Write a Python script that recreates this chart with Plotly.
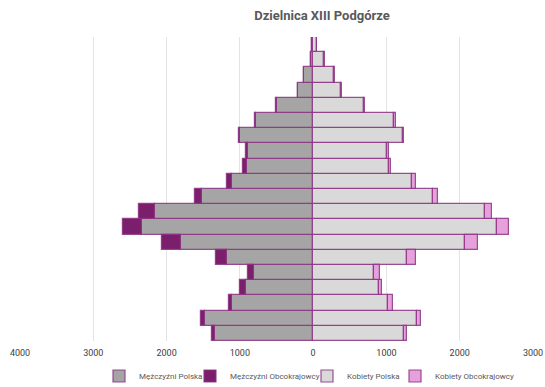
import plotly.graph_objects as go

# grupy wiekowe (od dołu do góry)
wiek = ["0-4", "5-9", "10-14", "15-19", "20-24", "25-29", "30-34", "35-39", "40-44", "45-49",
        "50-54", "55-59", "60-64", "65-69", "70-74", "75-79", "80-84", "85-89", "90-94", "95+"]

m_polska = [1341, 1473, 1114, 922, 805, 1177, 1805, 2341, 2160, 1523,
            1105, 909, 887, 1000, 780, 497, 205, 120, 32, 18]
m_obce = [41, 59, 41, 82, 82, 155, 259, 259, 214, 91,
          68, 55, 30, 18, 15, 12, 8, 7, 3, 2]
k_polska = [1242, 1419, 1028, 896, 824, 1274, 2074, 2506, 2342, 1642,
            1351, 1037, 1010, 1225, 1110, 695, 378, 288, 152, 50]
k_obce = [36, 50, 55, 50, 86, 136, 182, 168, 105, 55,
          46, 27, 27, 17, 14, 10, 9, 8, 8, 5]

tick_vals = [-4000, -3000, -2000, -1000, 0, 1000, 2000, 3000]
tick_text = ["4000", "3000", "2000", "1000", "0", "1000", "2000", "3000"]

obrys = dict(color="rgba(140,50,130,0.85)", width=1.2)

fig = go.Figure()
fig.add_trace(go.Bar(y=wiek, x=[-v for v in m_polska], orientation="h",
                     name="Mężczyźni Polska", legend="legend", showlegend=True,
                     marker=dict(color="#A5A5A5", line=obrys)))
fig.add_trace(go.Bar(y=wiek, x=[-v for v in m_obce], orientation="h",
                     name="Mężczyźni Obcokrajowcy", legend="legend2", showlegend=True,
                     marker=dict(color="#7B1F6D", line=obrys)))
fig.add_trace(go.Bar(y=wiek, x=k_polska, orientation="h",
                     name="Kobiety Polska", legend="legend3", showlegend=True,
                     marker=dict(color="#D9D9D9", line=obrys)))
fig.add_trace(go.Bar(y=wiek, x=k_obce, orientation="h",
                     name="Kobiety Obcokrajowcy", legend="legend4", showlegend=True,
                     marker=dict(color="#E6A0DC", line=obrys)))

def leg(px):
    return dict(xref="container", yref="container", x=px / 545, xanchor="left",
                y=1 - 376 / 387, yanchor="middle", bgcolor="rgba(0,0,0,0)",
                font=dict(size=8, color="#595959"), itemwidth=30)

fig.update_layout(
    width=545, height=387,
    showlegend=True,
    barmode="relative", bargap=0,
    paper_bgcolor="white", plot_bgcolor="white",
    font=dict(family="Roboto", size=9, color="#595959"),
    title=dict(text="<b>Dzielnica XIII Podgórze</b>", xref="container", yref="container",
               x=322 / 545, xanchor="center", y=1 - 15 / 387, yanchor="middle",
               font=dict(size=13, color="#595959")),
    margin=dict(l=20, r=12, t=37, b=46, autoexpand=False),
    xaxis=dict(range=[-4000, 3000], tickvals=tick_vals, ticktext=tick_text,
               showgrid=True, gridcolor="#E3E3E3", gridwidth=1, zeroline=False,
               showline=False, ticks="", ticklabelstandoff=5,
               tickfont=dict(size=9, color="#404040")),
    yaxis=dict(categoryorder="array", categoryarray=wiek, showticklabels=False,
               showgrid=False, zeroline=False, showline=False, ticks=""),
    legend=leg(99),
    legend2=leg(190),
    legend3=leg(307),
    legend4=leg(395),
)

fig.write_html("out.html", config={"displayModeBar": False},
               post_script="document.body.style.margin='0';")
